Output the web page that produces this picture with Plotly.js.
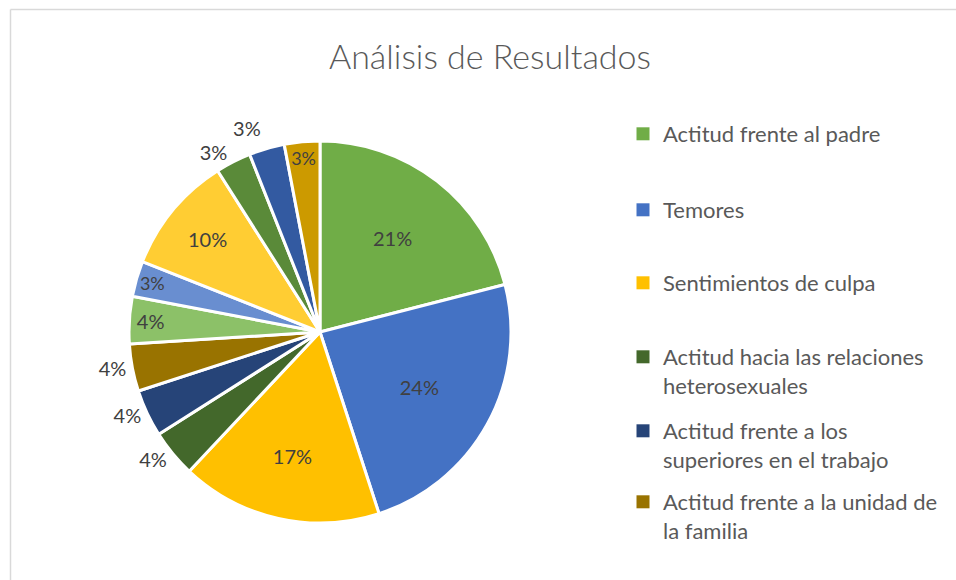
<!DOCTYPE html>
<html>
<head>
<meta charset="utf-8">
<script src="https://cdn.plot.ly/plotly-3.0.1.min.js"></script>
<style>
html,body{margin:0;padding:0;background:#fff;}
#chart{width:956px;height:580px;}
#chart path.textline{display:none;}
</style>
</head>
<body>
<div id="chart"></div>
<script>
// Data
const categories = [
  "Actitud frente al padre",
  "Temores",
  "Sentimientos de culpa",
  "Actitud hacia las relaciones heterosexuales",
  "Actitud frente a los superiores en el trabajo",
  "Actitud frente a la unidad de la familia",
  "Categoría 7",
  "Categoría 8",
  "Categoría 9",
  "Categoría 10",
  "Categoría 11",
  "Categoría 12"
];
const values = [21, 24, 17, 4, 4, 4, 4, 3, 10, 3, 3, 3];
const colors = ["#70AD47", "#4472C4", "#FFC000", "#43682B", "#264478", "#997300",
                "#8CC168", "#698ED0", "#FFCD33", "#5A8A39", "#335AA1", "#CC9A00"];
const textPositions = ["inside", "inside", "inside", "outside", "outside", "outside",
                       "inside", "inside", "inside", "outside", "outside", "inside"];
// Legend shows only the first six categories (as in the reference)
const legendLabels = [
  "Actitud frente al padre",
  "Temores",
  "Sentimientos de culpa",
  "Actitud hacia las relaciones<br>heterosexuales",
  "Actitud frente a los<br>superiores en el trabajo",
  "Actitud frente a la unidad de<br>la familia"
];
const legendTops = [134, 210, 283, 357, 431, 502]; // pixel centre of first line

const W = 956, H = 580;
const cx = 320, cy = 332, R = 191;
const FONT = "Lato, 'Open Sans', sans-serif";

const traces = [{
  type: "pie",
  labels: categories,
  values: values,
  sort: false,
  direction: "clockwise",
  rotation: 0,
  marker: {colors: colors, line: {color: "#ffffff", width: 3}},
  texttemplate: "%{value}%",
  textposition: textPositions,
  insidetextorientation: "horizontal",
  textfont: {family: FONT, size: 20, color: "#404040"},
  insidetextfont: {family: FONT, size: 20, color: "#404040"},
  outsidetextfont: {family: FONT, size: 20, color: "#404040"},
  showlegend: false,
  hoverinfo: "label+percent",
  domain: {x: [(cx - R) / W, (cx + R) / W], y: [(H - cy - R) / H, (H - cy + R) / H]}
}];

const layout = {
  width: W, height: H,
  margin: {l: 0, r: 0, t: 0, b: 0},
  paper_bgcolor: "#ffffff",
  plot_bgcolor: "#ffffff",
  title: {
    text: "Análisis de Resultados",
    font: {family: FONT, size: 34, weight: 300, color: "#595959"},
    x: 490 / W, xanchor: "center",
    y: 1 - 57 / H, yanchor: "middle"
  },
  xaxis: {visible: false},
  yaxis: {visible: false},
  shapes: [
    {type: "line", xref: "paper", yref: "paper", x0: 10.5 / W, x1: 10.5 / W, y0: 0, y1: 1 - 9.5 / H,
     line: {color: "#d9d9d9", width: 1.5}},
    {type: "line", xref: "paper", yref: "paper", x0: 10.5 / W, x1: 1, y0: 1 - 9.5 / H, y1: 1 - 9.5 / H,
     line: {color: "#d9d9d9", width: 1.5}}
  ]
};

legendLabels.forEach(function (lab, i) {
  const key = i === 0 ? "legend" : "legend" + (i + 1);
  traces.push({
    type: "scatter", x: [null], y: [null], mode: "markers",
    name: lab,
    marker: {symbol: "square", size: 13, color: colors[i]},
    showlegend: true,
    legend: key,
    hoverinfo: "skip"
  });
  layout[key] = {
    x: 623 / W, xanchor: "left",
    y: 1 - (legendTops[i] - 21) / H, yanchor: "top",
    valign: "top",
    bgcolor: "rgba(0,0,0,0)",
    font: {family: FONT, size: 22, color: "#595959"}
  };
});

Plotly.newPlot("chart", traces, layout, {displayModeBar: false, staticPlot: true});
</script>
</body>
</html>
